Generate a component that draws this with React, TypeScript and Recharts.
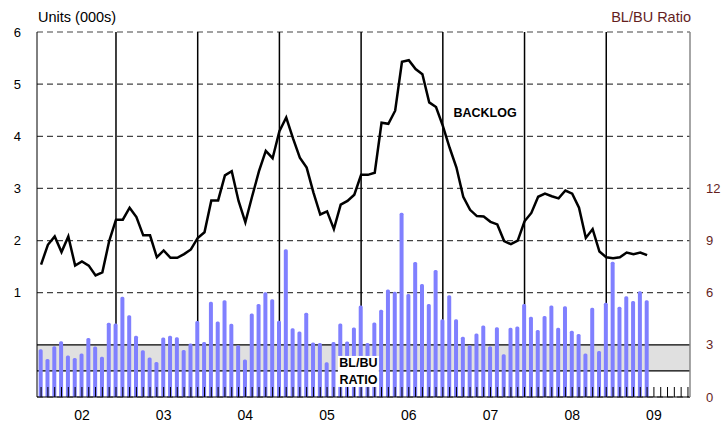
import React from 'react';
import {
  ComposedChart, Bar, Line, XAxis, YAxis, CartesianGrid,
  ReferenceDot, Label,
} from 'recharts';

// Monthly, Jan 2002 .. Jun 2009 (month index 1 = Jan 2002)
const backlog: number[] = [
  1.54, 1.92, 2.08, 1.78, 2.08, 1.52, 1.60, 1.52, 1.33, 1.39, 1.99, 2.40,
  2.40, 2.63, 2.45, 2.10, 2.10, 1.68, 1.81, 1.67, 1.67, 1.74, 1.83, 2.05,
  2.16, 2.77, 2.77, 3.25, 3.33, 2.76, 2.35, 2.85, 3.33, 3.72, 3.58, 4.10,
  4.36, 3.96, 3.59, 3.40, 2.92, 2.50, 2.56, 2.22, 2.69, 2.76, 2.88, 3.26,
  3.26, 3.30, 4.26, 4.24, 4.49, 5.43, 5.46, 5.29, 5.19, 4.65, 4.56, 4.20,
  3.78, 3.40, 2.84, 2.59, 2.47, 2.46, 2.36, 2.31, 1.99, 1.93, 2.00, 2.37,
  2.53, 2.84, 2.90, 2.85, 2.81, 2.96, 2.90, 2.63, 2.05, 2.22, 1.79, 1.68,
  1.66, 1.68, 1.77, 1.74, 1.77, 1.72,
];

const blbuRatio: number[] = [
  2.75, 2.19, 2.92, 3.21, 2.39, 2.25, 2.50, 3.39, 2.91, 2.31, 4.27, 4.23,
  5.77, 4.70, 3.52, 2.69, 2.27, 2.02, 3.43, 3.52, 3.44, 2.71, 3.08, 4.37,
  3.17, 5.48, 4.35, 5.56, 4.22, 2.98, 2.16, 4.81, 5.35, 6.02, 5.62, 4.39,
  8.50, 3.95, 3.77, 4.85, 3.14, 3.10, 2.00, 3.17, 4.23, 3.19, 4.00, 5.27,
  3.10, 4.29, 5.02, 6.19, 6.06, 10.6, 5.92, 7.77, 6.50, 5.35, 7.31, 4.48,
  5.85, 4.48, 3.46, 2.98, 3.66, 4.12, 2.92, 4.02, 2.46, 3.98, 4.06, 5.35,
  4.62, 3.85, 4.66, 5.27, 3.98, 5.22, 3.81, 3.62, 2.50, 5.14, 2.64, 5.42,
  7.78, 5.19, 5.79, 5.52, 6.08, 5.56,
];

const yearLabels: string[] = ['02', '03', '04', '05', '06', '07', '08', '09'];
const monthsPerYear = 12;
const allMonths: number[] = Array.from({ length: yearLabels.length * monthsPerYear }, (_, i) => i + 1);
const yearEnds: number[] = yearLabels.slice(0, -1).map((_, i) => (i + 1) * monthsPerYear);
const leftTicks: number[] = [1, 2, 3, 4, 5, 6];
const rightTicks: number[] = [0, 3, 6, 9, 12];
const bandLow = 1.5;
const bandHigh = 3;

const data = backlog.map((b, i) => ({ m: i + 1, backlog: b, ratio: blbuRatio[i] }));

const MAROON = '#641e1e';
const FONT = '"Liberation Sans", Arial, Helvetica, sans-serif';

const applyScale = (s: any, v: number): number => {
  try {
    if (typeof s === 'function') return s(v);
    if (s && typeof s.map === 'function') return s.map(v);
    if (s && typeof s.scale === 'function') return s.scale(v);
    if (s && typeof s.apply === 'function') return s.apply(v);
  } catch (e) {
    return NaN;
  }
  return NaN;
};

const XTick = (props: any) => {
  const { x, y, payload } = props;
  const v = payload.value as number;
  if ((v - 7) % 12 !== 0) return <g />;
  const label = yearLabels[(v - 7) / 12];
  return (
    <text x={x} y={y} dy="0.71em" textAnchor="middle" fontSize={14} fill="#000">
      {label}
    </text>
  );
};

const BacklogLabel = (props: any) => {
  const vb = props.viewBox || {};
  const cx = (vb.x ?? 0) + (vb.width ?? 0) / 2;
  const cy = (vb.y ?? 0) + (vb.height ?? 0) / 2;
  return (
    <text x={cx} y={cy} dy="0.36em" textAnchor="middle" fontSize={12.5} fontWeight="bold" fill="#000">
      BACKLOG
    </text>
  );
};

const RatioLabel = (props: any) => {
  const vb = props.viewBox || {};
  const cx = (vb.x ?? 0) + (vb.width ?? 0) / 2;
  const cy = (vb.y ?? 0) + (vb.height ?? 0) / 2;
  return (
    <g>
      <rect x={cx - 20.5} y={cy - 15.5} width={41} height={31} fill="#fff" />
      <text x={cx} y={cy - 8.5} dy="0.36em" textAnchor="middle" fontSize={12.5} fontWeight="bold" fill="#000">
        BL/BU
      </text>
      <text x={cx} y={cy + 8} dy="0.36em" textAnchor="middle" fontSize={12.5} fontWeight="bold" fill="#000">
        RATIO
      </text>
    </g>
  );
};

const bandLines = (p: any) => {
  const s = p && p.yAxis && p.yAxis.scale;
  return [bandHigh, bandLow].map((v) => applyScale(s, v)).filter((n) => Number.isFinite(n));
};

const yearLines = (p: any) => {
  const s = p && p.xAxis && p.xAxis.scale;
  return yearEnds.map((m) => applyScale(s, m)).filter((n) => Number.isFinite(n));
};

export default function App() {
  return (
    <div style={{ position: 'absolute', left: 0, top: 0, width: 724, height: 424, fontFamily: FONT, background: '#fff' }}>
      <div style={{ position: 'absolute', left: 38, top: 10, fontSize: 14.5, lineHeight: '15px', color: '#000' }}>
        Units (000s)
      </div>
      <div style={{ position: 'absolute', right: 33, top: 10, fontSize: 14.5, lineHeight: '15px', color: MAROON }}>
        BL/BU Ratio
      </div>
      <ComposedChart
        width={724}
        height={424}
        data={data}
        margin={{ top: 32, right: 0, bottom: 0, left: 0 }}
      >
        <CartesianGrid
          yAxisId="right"
          vertical={false}
          horizontalCoordinatesGenerator={bandLines}
          horizontalFill={['none', '#e0e0e0', 'none']}
          fillOpacity={1}
          stroke="#000"
          strokeWidth={1.2}
        />
        <CartesianGrid yAxisId="left" vertical={false} stroke="#444" strokeDasharray="6 4" strokeWidth={1.2} />
        <CartesianGrid
          yAxisId="left"
          horizontal={false}
          verticalCoordinatesGenerator={yearLines}
          stroke="#000"
          strokeWidth={1.5}
        />
        <XAxis
          dataKey="m"
          type="number"
          domain={[0.4, 96.3]}
          allowDataOverflow
          ticks={allMonths}
          interval={0}
          tickSize={-10}
          tickMargin={23}
          tick={<XTick />}
          tickLine={{ stroke: '#000' }}
          axisLine={{ stroke: '#000' }}
          height={27}
        />
        <YAxis
          yAxisId="left"
          domain={[-1, 6]}
          ticks={leftTicks}
          allowDataOverflow
          tickLine={false}
          tickSize={0}
          tickMargin={16}
          axisLine={{ stroke: '#000' }}
          width={37}
          tick={{ fill: '#000', fontSize: 13 }}
        />
        <YAxis
          yAxisId="right"
          orientation="right"
          domain={[0, 21]}
          ticks={rightTicks}
          allowDataOverflow
          tickLine={false}
          tickSize={0}
          tickMargin={16}
          axisLine={{ stroke: '#888', strokeWidth: 1.5 }}
          width={34}
          tick={{ fill: MAROON, fontSize: 13 }}
        />
        <Bar yAxisId="right" dataKey="ratio" fill="#8080ff" barSize={4} radius={[1.5, 1.5, 0, 0]} isAnimationActive={false} />
        <Line yAxisId="left" dataKey="backlog" type="linear" stroke="#000" strokeWidth={2.5} dot={false} isAnimationActive={false} />
        <ReferenceDot yAxisId="left" x={66.2} y={4.46} r={0} fill="none" stroke="none">
          <Label content={<BacklogLabel />} />
        </ReferenceDot>
        <ReferenceDot yAxisId="right" x={47.6} y={1.47} r={0} fill="none" stroke="none">
          <Label content={<RatioLabel />} />
        </ReferenceDot>
      </ComposedChart>
    </div>
  );
}
